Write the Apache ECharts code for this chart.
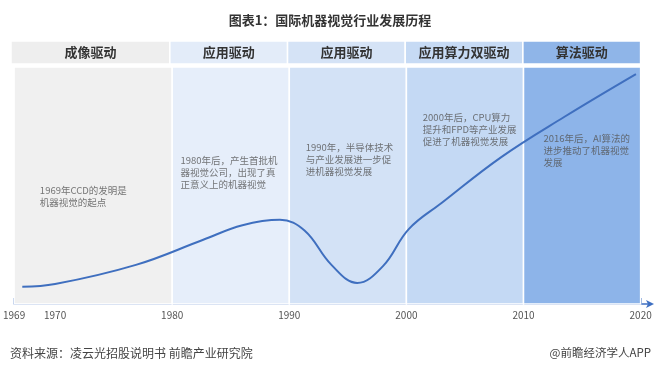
<!DOCTYPE html>
<html><head><meta charset="utf-8">
<script src="https://cdn.jsdelivr.net/npm/echarts@6/dist/echarts.min.js"></script>
<style>html,body{margin:0;padding:0;background:#fff}#c{width:660px;height:367px}</style>
</head><body><div id="c"></div>
<script>
// ---- data ----
const curveYears = [1967.2,1970.0,1976.9,1982.6,1986.0,1989.2,1991.3,1993.6,1995.8,1998.0,2000.2,2003.0,2008.1,2013.5,2019.6];
const curveValues = [7.3,8.4,16.5,27.0,33.2,35.5,31.0,16.5,8.9,16.0,31.6,42.6,62.0,79.0,97.0];
const axisStart = 1966.5;               // drawn start of the (broken) axis, labelled 1969
const axisEnd = 2020.8;
const tickValues = [axisStart,1970,1980,1990,2000,2010,2020];
const tickLabels = ['1969','1970','1980','1990','2000','2010','2020'];
const stageNames = ['成像驱动','应用驱动','应用驱动','应用算力双驱动','算法驱动'];
const stageBounds = [axisStart,1980,1990,2000,2010,2020];
const stageBodyColors = ['#f0f0f0','#e6eefa','#d3e2f6','#c4d9f4','#8db4e9'];
const stageHeadColors = ['#eeeeee','#e3ecf9','#d5e3f6','#c6daf4','#8fb5e8'];
const noteYears = [1968.7,1980.7,1991.4,2001.4,2011.7];
const noteValues = [50.6,63.3,68.8,81.4,72.6];
const noteTexts = [
  '1969年CCD的发明是\n机器视觉的起点',
  '1980年后，产生首批机\n器视觉公司，出现了真\n正意义上的机器视觉',
  '1990年，半导体技术\n与产业发展进一步促\n进机器视觉发展',
  '2000年后，CPU算力\n提升和FPD等产业发展\n促进了机器视觉发展',
  '2016年后，AI算法的\n进步推动了机器视觉\n发展'
];
const titleText = '图表1：国际机器视觉行业发展历程';
const sourceText = '资料来源：凌云光招股说明书 前瞻产业研究院';
const creditText = '@前瞻经济学人APP';

// ---- chart ----
const FONT = '"Noto Sans CJK SC","Microsoft YaHei",sans-serif';
const chart = echarts.init(document.getElementById('c'), null, {renderer:'canvas'});
const bodyAreas = stageNames.map((n,i)=>[
  {xAxis: stageBounds[i], itemStyle:{color: stageBodyColors[i]}},
  {xAxis: stageBounds[i+1]}
]);
const headAreas = stageNames.map((n,i)=>[
  {xAxis: stageBounds[i], name: n, itemStyle:{color: stageHeadColors[i]}},
  {xAxis: stageBounds[i+1]}
]);
chart.setOption({
  animation:false,
  backgroundColor:'#fff',
  textStyle:{fontFamily:FONT},
  title:[
    {text:titleText, left:'center', top:9, textStyle:{fontFamily:FONT,fontSize:13,fontWeight:'bold',color:'#333'}},
    {text:sourceText, left:5, top:342, textStyle:{fontFamily:FONT,fontSize:12,fontWeight:'normal',color:'#444'}},
    {text:creditText, right:4, top:342, textStyle:{fontFamily:FONT,fontSize:11.5,fontWeight:'normal',color:'#444'}}
  ],
  grid:[
    {left:11, right:10, top:67, bottom:63},
    {left:11, right:10, top:41, height:23}
  ],
  xAxis:[
    {type:'value', gridIndex:0, min:axisStart, max:axisEnd,
     splitLine:{show:false},
     axisLine:{show:true, lineStyle:{color:'#3e6fc2', width:1.5}, symbol:['none','arrow'], symbolSize:[6,8], symbolOffset:[0,4]},
     axisTick:{show:true, inside:true, length:6, customValues:tickValues, lineStyle:{color:'#3e6fc2', width:1.5}},
     axisLabel:{show:true, customValues:tickValues, margin:6, fontSize:10, color:'#555', fontFamily:FONT,
       formatter:(v)=>{const i=tickValues.indexOf(v); return i>=0?tickLabels[i]:'';}}
    },
    {type:'value', gridIndex:1, min:axisStart, max:axisEnd, show:false}
  ],
  yAxis:[
    {type:'value', gridIndex:0, min:0, max:100, show:false},
    {type:'value', gridIndex:1, min:0, max:1, show:false}
  ],
  series:[
    {type:'line', xAxisIndex:1, yAxisIndex:1, data:[], silent:true,
     markArea:{silent:true, itemStyle:{borderColor:'#fff', borderWidth:1.5},
       label:{show:true, position:'inside', fontFamily:FONT, fontSize:13, fontWeight:'bold', color:'#333'},
       data:headAreas}
    },
    {type:'line', xAxisIndex:0, yAxisIndex:0, smooth:0.4, symbol:'none',
     data: curveYears.map((y,i)=>[y,curveValues[i]]),
     lineStyle:{color:'#3f6fbf', width:2},
     z:5,
     markArea:{silent:true, itemStyle:{borderColor:'#fff', borderWidth:1.5}, data:bodyAreas}
    },
    {type:'scatter', xAxisIndex:0, yAxisIndex:0, symbolSize:0, silent:true, z:6,
     data: noteYears.map((y,i)=>({value:[y,noteValues[i]], text:noteTexts[i]})),
     label:{show:true, position:[0,0], align:'left', verticalAlign:'top', fontFamily:FONT, fontSize:9.5, lineHeight:12, color:'#555',
       formatter:(p)=>p.data.text}
    }
  ]
});
</script></body></html>
